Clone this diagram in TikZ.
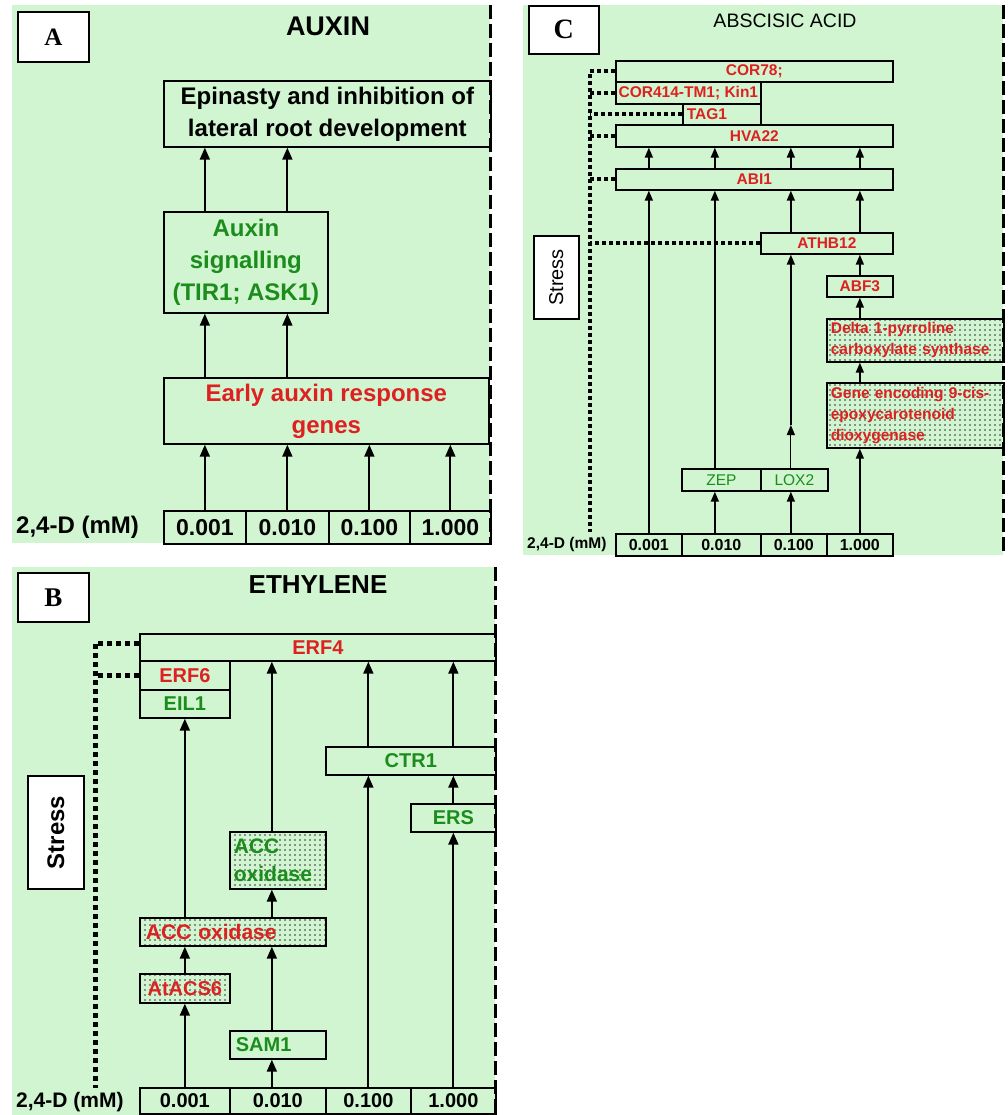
\documentclass[tikz,border=0pt]{standalone}
\usepackage{graphicx}
\usepackage{fontspec}
\setmainfont{Liberation Sans}
\newfontfamily\serifb{Liberation Serif}
\usetikzlibrary{arrows.meta,patterns}
\pgfdeclarepatternformonly{sdots}{\pgfqpoint{-1pt}{-1pt}}{\pgfqpoint{1pt}{1pt}}{\pgfqpoint{5pt}{5pt}}{\pgfpathcircle{\pgfqpoint{0pt}{0pt}}{0.9pt}\pgfusepath{fill}}
\definecolor{bg}{RGB}{208,245,208}
\definecolor{tred}{RGB}{222,32,32}
\definecolor{tgreen}{RGB}{28,140,28}
\tikzset{
  box/.style={draw=black, line width=1.7pt, inner sep=0pt, anchor=north west},
  dotfill/.style={pattern=sdots, pattern color=black!80},
  arr/.style={line width=1.9pt, -{Triangle[width=10pt,length=12pt]}},
  arrc/.style={line width=1.6pt, -{Triangle[width=8pt,length=10pt]}},
  dotB/.style={line width=5pt, dash pattern=on 5pt off 4pt},
  dotC/.style={line width=3.8pt, dash pattern=on 3.8pt off 3.2pt},
  dsh/.style={line width=3pt, dash pattern=on 14pt off 5pt},
  fA/.style={font=\bfseries\fontsize{24}{32}\selectfont},
  fB/.style={font=\bfseries\fontsize{20}{28}\selectfont},
  fC/.style={font=\bfseries\fontsize{15.5}{21}\selectfont},
}
\begin{document}
\begin{tikzpicture}[x=1pt,y=-1pt]
\useasboundingbox[fill=white] (0,0) rectangle (1008,1115);
% ================= Panel A =================
\fill[bg] (12,5) rectangle (490,543);
\node[box, fill=white, minimum width=71pt, minimum height=50pt, font=\serifb\bfseries\fontsize{25}{25}\selectfont] (labA) at (17,11) {A};
\node[font=\bfseries\fontsize{27}{27}\selectfont] (tA) at (328,26) {AUXIN};
\node[box, fA, minimum width=327pt, minimum height=66pt, align=center] (epi) at (163,80) {Epinasty and inhibition of\\lateral root development};
\node[box, fA, minimum width=164pt, minimum height=101pt, align=center, text=tgreen] (sig) at (163,211) {Auxin\\signalling\\(TIR1; ASK1)};
\node[box, fA, minimum width=325pt, minimum height=66pt, align=center, text=tred] (early) at (163,377) {Early auxin response\\genes};
\node[box, font=\bfseries\fontsize{23}{23}\selectfont, minimum width=82pt, minimum height=33pt] (a1) at (163,510) {0.001};
\node[box, font=\bfseries\fontsize{23}{23}\selectfont, minimum width=83pt, minimum height=33pt] (a2) at (245,510) {0.010};
\node[box, font=\bfseries\fontsize{23}{23}\selectfont, minimum width=81pt, minimum height=33pt] (a3) at (328,510) {0.100};
\node[box, font=\bfseries\fontsize{23}{23}\selectfont, minimum width=81pt, minimum height=33pt] (a4) at (409,510) {1.000};
\node[font=\bfseries\fontsize{24}{24}\selectfont, anchor=west, inner sep=0pt] (aD) at (16,527) {2,4-D (mM)};
\foreach \v in {a1,a2,a3,a4}{\draw[arr] (\v.north) -- (\v.north |- early.south);}
\foreach \v in {a1,a2}{
  \draw[arr] (early.north -| \v) -- (sig.south -| \v);
  \draw[arr] (sig.north -| \v) -- (epi.south -| \v);}
\draw[dsh] (490,5) -- (490,543);
% ================= Panel B =================
\fill[bg] (12,567) rectangle (495,1115);
\node[box, fill=white, minimum width=71pt, minimum height=49pt, font=\serifb\bfseries\fontsize{27}{27}\selectfont] (labB) at (17,572) {B};
\node[font=\bfseries\fontsize{26}{26}\selectfont] (tB) at (318,585) {ETHYLENE};
\node[box, fB, text=tred, minimum width=356pt, minimum height=27pt] (erf4) at (139,633) {ERF4};
\node[box, fB, text=tred, minimum width=90pt, minimum height=29pt] (erf6) at (139,660) {ERF6};
\node[box, fB, text=tgreen, minimum width=90pt, minimum height=28pt] (eil1) at (139,689) {EIL1};
\node[box, fB, text=tgreen, minimum width=170pt, minimum height=28pt] (ctr1) at (325,746) {CTR1};
\node[box, fB, text=tgreen, minimum width=85pt, minimum height=28pt] (ers) at (410,803) {ERS};
\node[box, dotfill, font=\bfseries\fontsize{21}{28}\selectfont, text=tgreen, minimum width=96pt, minimum height=57pt, text width=88pt, align=left] (accg) at (229,831) {ACC\\oxidase};
\node[box, dotfill, font=\bfseries\fontsize{21}{28}\selectfont, text=tred, minimum width=186pt, minimum height=28pt, text width=174pt, align=left] (accr) at (139,917) {ACC oxidase};
\node[box, dotfill, fB, text=tred, minimum width=90pt, minimum height=29pt] (acs6) at (139,973) {AtACS6};
\node[box, fB, text=tgreen, minimum width=96pt, minimum height=28pt, text width=84pt, align=left] (sam1) at (229,1030) {SAM1};
\node[box, fB, minimum width=90pt, minimum height=26pt] (b1) at (139,1087) {0.001};
\node[box, fB, minimum width=96pt, minimum height=26pt] (b2) at (229,1087) {0.010};
\node[box, fB, minimum width=85pt, minimum height=26pt] (b3) at (325,1087) {0.100};
\node[box, fB, minimum width=85pt, minimum height=26pt] (b4) at (410,1087) {1.000};
\node[box, fill=white, minimum width=56pt, minimum height=113pt, font=\bfseries\fontsize{24}{24}\selectfont] (stB) at (27,775) {\rotatebox{90}{Stress}};
\node[font=\bfseries\fontsize{21}{21}\selectfont, anchor=west, inner sep=0pt] (bD) at (16,1102) {2,4-D (mM)};
% arrows B
\draw[arr] (b1.north) -- (b1.north |- acs6.south);
\draw[arr] (acs6.north) -- (acs6.north |- accr.south);
\draw[arr] (accr.north -| acs6) -- (eil1.south -| acs6);
\coordinate (xB2) at ([xshift=-6pt]b2.north);
\draw[arr] (xB2) -- (xB2 |- sam1.south);
\draw[arr] (sam1.north -| xB2) -- (accr.south -| xB2);
\draw[arr] (accr.north -| xB2) -- (accg.south -| xB2);
\draw[arr] (accg.north -| xB2) -- (erf4.south -| xB2);
\draw[arr] (b3.north) -- (b3.north |- ctr1.south);
\draw[arr] (ctr1.north -| b3) -- (erf4.south -| b3);
\draw[arr] (b4.north) -- (b4.north |- ers.south);
\draw[arr] (ers.north -| b4) -- (ctr1.south -| b4);
\draw[arr] (ctr1.north -| b4) -- (erf4.south -| b4);
% dotted B
\coordinate (sBc) at (95,1088);
\draw[dotB] ([yshift=4pt]erf4.west) -| (sBc);
\draw[dotB] (erf6.west) -- (erf6.west -| sBc);
\draw[dsh] (495,567) -- (495,1115);
% ================= Panel C =================
\fill[bg] (523,5) rectangle (1003,555);
\node[box, fill=white, minimum width=70pt, minimum height=48pt, font=\serifb\bfseries\fontsize{28}{28}\selectfont] (labC) at (528,5) {C};
\node[font=\fontsize{19.5}{19.5}\selectfont] (tC) at (785,21) {ABSCISIC ACID};
\node[box, fC, text=tred, minimum width=277pt, minimum height=21pt] (cor78) at (615,60) {COR78;};
\node[box, fC, text=tred, minimum width=145pt, minimum height=22pt] (cor414) at (615,81) {COR414-TM1; Kin1};
\node[box, fC, text=tred, minimum width=78pt, minimum height=21pt, text width=70pt, align=left] (tag1) at (682,103) {TAG1};
\node[box, fC, text=tred, minimum width=277pt, minimum height=22pt] (hva22) at (615,124) {HVA22};
\node[box, fC, text=tred, minimum width=277pt, minimum height=21pt] (abi1) at (615,168) {ABI1};
\node[box, fC, text=tred, minimum width=132pt, minimum height=21pt] (athb12) at (760,232) {ATHB12};
\node[box, fC, text=tred, minimum width=66pt, minimum height=21pt] (abf3) at (826,275) {ABF3};
\node[box, fC, dotfill, text=tred, minimum width=177pt, minimum height=43pt, text width=169pt, align=left] (delta) at (826,318) {Delta 1-pyrroline\\carboxylate synthase};
\node[box, fC, dotfill, text=tred, minimum width=177pt, minimum height=65pt, text width=169pt, align=left] (gene) at (826,382) {Gene encoding 9-cis-\\epoxycarotenoid\\dioxygenase};
\node[box, font=\fontsize{15.5}{15.5}\selectfont, text=tgreen, minimum width=79pt, minimum height=22pt] (zep) at (681,468) {ZEP};
\node[box, font=\fontsize{15.5}{15.5}\selectfont, text=tgreen, minimum width=67pt, minimum height=22pt] (lox2) at (760,468) {LOX2};
\node[box, font=\bfseries\fontsize{16}{16}\selectfont, minimum width=66pt, minimum height=22pt] (c1) at (615,533) {0.001};
\node[box, font=\bfseries\fontsize{16}{16}\selectfont, minimum width=79pt, minimum height=22pt] (c2) at (681,533) {0.010};
\node[box, font=\bfseries\fontsize{16}{16}\selectfont, minimum width=66pt, minimum height=22pt] (c3) at (760,533) {0.100};
\node[box, font=\bfseries\fontsize{16}{16}\selectfont, minimum width=66pt, minimum height=22pt] (c4) at (826,533) {1.000};
\node[box, fill=white, minimum width=45pt, minimum height=83pt, font=\fontsize{20}{20}\selectfont] (stC) at (533,235) {\rotatebox{90}{Stress}};
\node[font=\bfseries\fontsize{15.5}{15.5}\selectfont, anchor=west, inner sep=0pt] (cD) at (527,544) {2,4-D (mM)};
% arrows C
\draw[arrc] (c1.north) -- (c1.north |- abi1.south);
\draw[arrc] (abi1.north -| c1) -- (hva22.south -| c1);
\coordinate (xC2) at ([xshift=-6.5pt]c2.north);
\draw[arrc] (xC2) -- (xC2 |- zep.south);
\draw[arrc] (zep.north -| xC2) -- (abi1.south -| xC2);
\draw[arrc] (abi1.north -| xC2) -- (hva22.south -| xC2);
\coordinate (xC3) at ([xshift=-3pt]c3.north);
\draw[arrc] (xC3) -- (xC3 |- lox2.south);
\coordinate (midL) at ([yshift=43pt]lox2.north -| xC3);
\draw[arrc, line width=1.2pt] (lox2.north -| xC3) -- (midL);
\draw[arrc] (midL) -- (athb12.south -| xC3);
\draw[arrc] (athb12.north -| xC3) -- (abi1.south -| xC3);
\draw[arrc] (abi1.north -| xC3) -- (hva22.south -| xC3);
\draw[arrc] (c4.north) -- (c4.north |- gene.south);
\draw[arrc] (gene.north -| c4) -- (delta.south -| c4);
\draw[arrc] (delta.north -| c4) -- (abf3.south -| c4);
\draw[arrc] (abf3.north -| c4) -- (athb12.south -| c4);
\draw[arrc] (athb12.north -| c4) -- (abi1.south -| c4);
\draw[arrc] (abi1.north -| c4) -- (hva22.south -| c4);
% dotted C
\coordinate (sCc) at (590,532);
\draw[dotC] (cor78.west) -| (sCc);
\foreach \n in {cor414,tag1,hva22,abi1,athb12}{\draw[dotC] (\n.west) -- (\n.west -| sCc);}
\draw[dsh] (1003,5) -- (1003,555);
\end{tikzpicture}
\end{document}
